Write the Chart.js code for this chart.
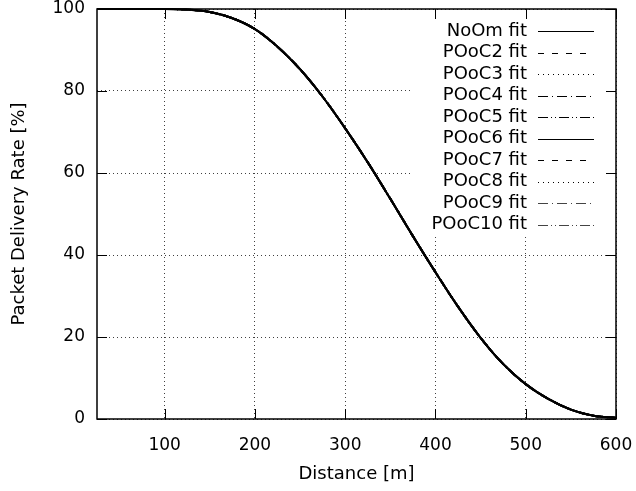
<!DOCTYPE html>
<html lang="en">
<head>
  <meta charset="UTF-8">
  <title>Packet Delivery Rate vs Distance</title>
  <script src="https://cdn.jsdelivr.net/npm/chart.js"></script>
  <style>
    body { margin: 0; background: #fff; }
    canvas { display: block; }
  </style>
</head>
<body>
  <canvas id="chartCanvas" width="636" height="491"></canvas>

  <script>
    // distance [m] and fitted packet delivery rate [%] (all fits overlap)
    const distance = [25, 50, 75, 100, 125, 150, 175, 200, 225, 250, 275, 300,
      325, 350, 375, 400, 425, 450, 475, 500, 525, 550, 575, 600];
    const pdrFit = [100, 100, 100, 100, 99.85, 99.25, 97.75, 95.1, 90.8, 85.3, 78.6, 70.9,
      62.6, 53.7, 44.6, 35.8, 27.4, 19.8, 13.4, 8.5, 4.9, 2.3, 0.8, 0.3];

    const seriesNames = ["NoOm fit", "POoC2 fit", "POoC3 fit", "POoC4 fit", "POoC5 fit",
      "POoC6 fit", "POoC7 fit", "POoC8 fit", "POoC9 fit", "POoC10 fit"];

    const xTicks = [100, 200, 300, 400, 500, 600];
    const yTicks = [0, 20, 40, 60, 80, 100];

    // gnuplot-ish dash types, cycling
    const dashTypes = [[], [6, 8], [1, 4], [10, 4, 1, 4], [10, 3, 1, 3, 1, 3]];
    const lineColors = ["#000", "#000", "#000", "#000", "#000", "#000", "#000", "#000", "#444", "#444"];

    const FONT = "'DejaVu Sans', Verdana, sans-serif";
    const tickLen = 10;

    const datasets = seriesNames.map((name, i) => ({
      label: name,
      data: distance.map((d, j) => ({ x: d, y: pdrFit[j] })),
      borderColor: lineColors[i],
      borderWidth: 2,
      borderDash: dashTypes[i % 5],
      pointRadius: 0,
      fill: false,
      cubicInterpolationMode: 'monotone'
    }));
    // solid ones drawn last so the curve reads as one solid line
    const drawOrder = datasets.map((d, i) => i).sort((a, b) => (dashTypes[a % 5].length ? 0 : 1) - (dashTypes[b % 5].length ? 0 : 1));
    drawOrder.forEach((idx, k) => { datasets[idx].order = datasets.length - k; });

    const framePlugin = {
      id: 'frame',
      beforeDatasetsDraw(chart) {
        const { ctx, chartArea: a, scales } = chart;
        ctx.save();
        // opaque key box
        ctx.fillStyle = '#fff';
        ctx.fillRect(413, a.top + 1, a.right - 413, 233 - a.top);
        // border
        ctx.strokeStyle = '#000';
        ctx.lineWidth = 1.5;
        ctx.setLineDash([]);
        ctx.strokeRect(a.left, a.top, a.right - a.left, a.bottom - a.top);
        // inward ticks, mirrored
        ctx.lineWidth = 1;
        ctx.beginPath();
        xTicks.forEach(v => {
          const x = Math.round(scales.x.getPixelForValue(v)) + 0.5;
          ctx.moveTo(x, a.bottom); ctx.lineTo(x, a.bottom - tickLen);
          ctx.moveTo(x, a.top); ctx.lineTo(x, a.top + tickLen);
        });
        yTicks.forEach(v => {
          const y = Math.round(scales.y.getPixelForValue(v)) + 0.5;
          ctx.moveTo(a.left, y); ctx.lineTo(a.left + tickLen, y);
          ctx.moveTo(a.right, y); ctx.lineTo(a.right - tickLen, y);
        });
        ctx.stroke();
        ctx.restore();
      },
      afterDraw(chart) {
        const ctx = chart.ctx;
        ctx.save();
        ctx.font = "18px " + FONT;
        ctx.textAlign = 'right';
        ctx.textBaseline = 'middle';
        chart.data.datasets.forEach((ds, i) => {
          const y = 31 + i * 21.5;
          ctx.fillStyle = '#000';
          ctx.fillText(ds.label, 527, y);
          ctx.strokeStyle = ds.borderColor;
          ctx.lineWidth = 1.2;
          ctx.setLineDash(ds.borderDash);
          ctx.beginPath();
          ctx.moveTo(538, Math.round(y) + 0.5);
          ctx.lineTo(594, Math.round(y) + 0.5);
          ctx.stroke();
        });
        ctx.restore();
      }
    };

    const ctx = document.getElementById("chartCanvas").getContext("2d");
    new Chart(ctx, {
      type: 'line',
      data: { datasets },
      options: {
        responsive: false,
        animation: false,
        clip: false,
        layout: { padding: { top: 9, right: 20, left: 0, bottom: 0 } },
        plugins: {
          legend: { display: false },
          tooltip: { enabled: false }
        },
        scales: {
          x: {
            type: 'linear',
            min: 25,
            max: 600,
            afterBuildTicks: s => { s.ticks = xTicks.map(v => ({ value: v })); },
            afterFit: s => { s.height = 72; s.paddingLeft = 0; s.paddingRight = 0; },
            grid: { color: 'rgba(0,0,0,0.75)', lineWidth: 1, drawTicks: false },
            border: { display: false, dash: [1, 3] },
            ticks: { color: '#000', padding: 16, font: { family: FONT, size: 17 }, maxRotation: 0 },
            title: { display: true, text: 'Distance [m]', color: '#000',
              font: { family: FONT, size: 18 }, padding: { top: 0, bottom: 6 } }
          },
          y: {
            min: 0,
            max: 100,
            afterBuildTicks: s => { s.ticks = yTicks.map(v => ({ value: v })); },
            afterFit: s => { s.width = 97; s.paddingTop = 0; s.paddingBottom = 0; },
            grid: { color: 'rgba(0,0,0,0.75)', lineWidth: 1, drawTicks: false },
            border: { display: false, dash: [1, 3] },
            ticks: { color: '#000', padding: 12, font: { family: FONT, size: 17 } },
            title: { display: true, text: 'Packet Delivery Rate [%]', color: '#000',
              font: { family: FONT, size: 18 }, padding: { top: 9, bottom: 0 } }
          }
        }
      },
      plugins: [framePlugin]
    });
  </script>
</body>
</html>
